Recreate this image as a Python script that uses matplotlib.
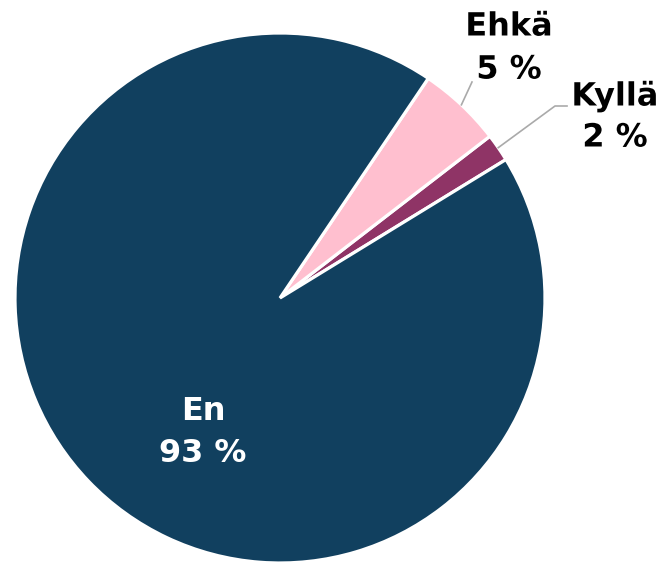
import numpy as np
import matplotlib
matplotlib.use("Agg")
import matplotlib.pyplot as plt
import matplotlib.patheffects as pe

labels = ["Kyllä", "Ehkä", "En"]
values = [1.7, 5.1, 93.2]
shown = ["2 %", "5 %", "93 %"]
colors = ["#8f3466", "#ffbfcf", "#11405f"]

plt.rcParams['font.family'] = ['DejaVu Sans']
FS = 23

W, H = 666, 562
fig = plt.figure(figsize=(W / 100, H / 100), dpi=100)
cx, cy, R = 280, 298, 265
ax = fig.add_axes([(cx - R) / W, (H - cy - R) / H, 2 * R / W, 2 * R / H])

start = 31.5
wedges, _ = ax.pie(values, colors=colors, startangle=start, counterclock=True,
                   radius=1.0, wedgeprops=dict(edgecolor="white", linewidth=2.3))
ax.set_xlim(-1, 1)
ax.set_ylim(-1, 1)
ax.set_aspect("auto")
ax.axis("off")

def to_data(px, py):
    return (px - cx) / R, (cy - py) / R

halo = [pe.withStroke(linewidth=3, foreground="white")]

def label(px, py, s, color="black", effects=halo):
    tx, ty = to_data(px, py)
    ax.text(tx, ty, s, ha="center", va="center", fontsize=FS, fontweight="bold",
            color=color, path_effects=effects, clip_on=False)

# Kyllä
ang = np.deg2rad(start + values[0] / 100 * 360 / 2)
x1, y1 = to_data(555, 106)
x2, y2 = to_data(567, 106)
ax.plot([np.cos(ang), x1, x2], [np.sin(ang), y1, y2], color="#aaaaaa", lw=1.2, clip_on=False)
label(615, 97, labels[0])
label(615, 138, shown[0])

# Ehkä
ang = np.deg2rad(start + (values[0] + values[1] / 2) / 100 * 360)
x1, y1 = to_data(472, 82)
ax.plot([np.cos(ang), x1], [np.sin(ang), y1], color="#aaaaaa", lw=1.2, clip_on=False)
label(509, 27, labels[1])
label(509, 70, shown[1])

# En (inside)
label(203, 411, labels[2], color="white", effects=None)
label(203, 454, shown[2], color="white", effects=None)

fig.savefig("out.png", dpi=100)
